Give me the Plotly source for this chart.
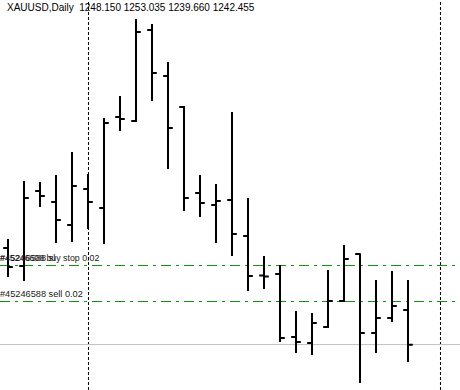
import plotly.graph_objects as go

# Daily XAUUSD bars (index = bar number)
bar_index = list(range(26))
opens = [1258.25, 1255.31, 1267.55, 1265.75, 1262.00, 1267.87, 1264.77, 1279.62, 1278.96, 1293.81,
         1286.30, 1281.25, 1267.22, 1265.26, 1266.08, 1260.21, 1253.75, 1254.01, 1243.73, 1242.75,
         1245.36, 1249.60, 1257.27, 1244.38, 1246.83, 1248.150]
highs = [1259.72, 1269.18, 1269.01, 1270.16, 1273.91, 1270.32, 1279.45, 1283.04, 1295.60, 1294.79,
         1288.59, 1281.40, 1270.16, 1268.69, 1280.43, 1266.40, 1256.94, 1255.48, 1247.97, 1247.65,
         1254.66, 1258.74, 1257.40, 1253.03, 1254.50, 1253.035]
lows = [1253.52, 1252.87, 1264.94, 1259.06, 1259.23, 1261.35, 1258.90, 1277.33, 1278.80, 1282.23,
        1271.13, 1264.28, 1263.31, 1259.06, 1256.94, 1251.23, 1251.56, 1242.92, 1241.12, 1240.80,
        1245.20, 1249.45, 1236.23, 1241.12, 1246.18, 1239.660]
closes = [1255.15, 1266.40, 1266.73, 1262.82, 1268.36, 1265.75, 1278.64, 1279.29, 1293.48, 1286.79,
          1277.82, 1266.40, 1265.59, 1265.91, 1260.53, 1253.68, 1253.60, 1243.57, 1242.92, 1246.02,
          1249.60, 1256.45, 1244.38, 1246.83, 1248.79, 1242.455]

symbol_title = "XAUUSD,Daily"
header_values = ["1248.150", "1253.035", "1239.660", "1242.455"]
buy_stop_price = 1255.40
sell_price = 1249.52
bid_price = 1242.50
period_separators = [5.03, 27.03]
buy_stop_label = "#45246608 buy stop 0.02"
sl_label = "#45246588 sl"
sell_label = "#45246588 sell 0.02"

fig = go.Figure()
fig.add_trace(go.Ohlc(
    x=bar_index, open=opens, high=highs, low=lows, close=closes,
    increasing=dict(line=dict(color="black", width=2)),
    decreasing=dict(line=dict(color="black", width=2)),
    tickwidth=0.3, hoverinfo="skip", showlegend=False,
))

shapes = []
for xs in period_separators:
    shapes.append(dict(type="line", xref="x", yref="paper", x0=xs, x1=xs, y0=0, y1=1,
                       line=dict(color="black", width=1, dash="3px,2px"), layer="below"))
shapes.append(dict(type="line", xref="paper", yref="y", x0=0, x1=1, y0=bid_price, y1=bid_price,
                   line=dict(color="#c0c0c0", width=1), layer="below"))
for p in (buy_stop_price, sell_price):
    shapes.append(dict(type="line", xref="paper", yref="y", x0=0, x1=1, y0=p, y1=p,
                       line=dict(color="#109010", width=1, dash="10px,5px,3px,5px"), layer="below"))

font_main = dict(family="Liberation Sans, Arial, sans-serif", size=10, color="#000000")
font_lbl = dict(family="Liberation Sans, Arial, sans-serif", size=9.2, color="#1a1a1a")
font_lbl2 = dict(family="Liberation Sans, Arial, sans-serif", size=8.8, color="#1a1a1a")
ohlc_text = symbol_title + "\u00a0\u00a0" + " ".join(header_values)

annotations = [
    dict(xref="paper", yref="paper", x=6 / 460, y=1 - 7 / 390, text=ohlc_text, showarrow=False,
         xanchor="left", yanchor="middle", font=font_main, borderpad=0),
    dict(xref="paper", yref="y", x=-1 / 460, y=buy_stop_price, yshift=7, text=buy_stop_label,
         showarrow=False, xanchor="left", yanchor="middle", font=font_lbl2, borderpad=0),
    dict(xref="paper", yref="y", x=-1 / 460, y=buy_stop_price, yshift=7, text=sl_label,
         showarrow=False, xanchor="left", yanchor="middle", font=font_lbl, borderpad=0),
    dict(xref="paper", yref="y", x=-1 / 460, y=sell_price, yshift=8, text=sell_label,
         showarrow=False, xanchor="left", yanchor="middle", font=font_lbl, borderpad=0),
]

fig.update_layout(
    width=460, height=390, margin=dict(l=0, r=0, t=0, b=0),
    paper_bgcolor="white", plot_bgcolor="white",
    xaxis=dict(range=[-0.5, 28.25], visible=False, rangeslider=dict(visible=False), fixedrange=True),
    yaxis=dict(range=[1235.09, 1298.70], visible=False, fixedrange=True),
    shapes=shapes, annotations=annotations, showlegend=False,
)

fig.write_html("out.html", config={"displayModeBar": False})
